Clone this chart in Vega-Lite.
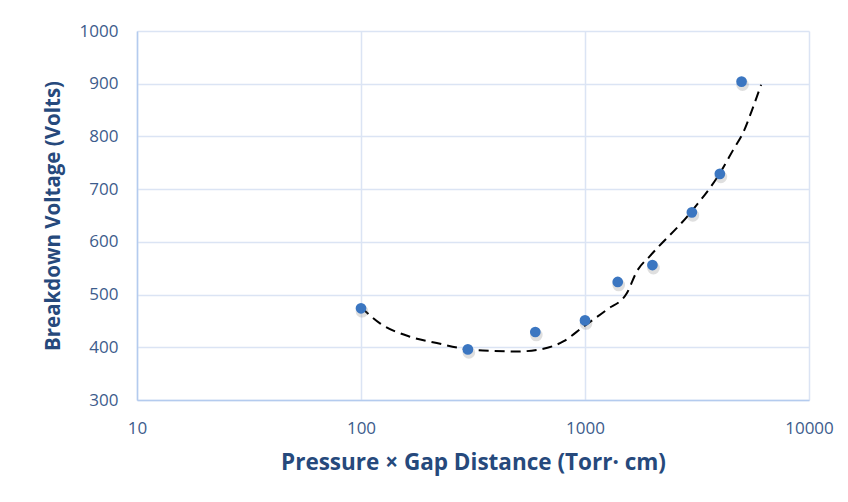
{
  "$schema": "https://vega.github.io/schema/vega-lite/v6.json",
  "width": 672,
  "height": 369,
  "autosize": {"type": "none"},
  "padding": {"left": 137, "top": 31, "right": 39, "bottom": 102},
  "background": "white",
  "config": {
    "font": "Open Sans",
    "view": {"stroke": null},
    "axis": {
      "gridColor": "#dbe4f4",
      "gridWidth": 1.5,
      "domainColor": "#b4cbee",
      "domainWidth": 1.5,
      "ticks": false,
      "labelFlush": false,
      "labelFont": "Open Sans",
      "labelFontSize": 17,
      "labelColor": "#3d5c8c",
      "titleFont": "Open Sans",
      "titleFontWeight": "bold",
      "titleColor": "#26497c"
    }
  },
  "datasets": {
    "measured": [
      {"pd": 100, "voltage": 474},
      {"pd": 300, "voltage": 396},
      {"pd": 600, "voltage": 429},
      {"pd": 1000, "voltage": 451},
      {"pd": 1400, "voltage": 524},
      {"pd": 2000, "voltage": 556},
      {"pd": 3000, "voltage": 656},
      {"pd": 4000, "voltage": 729},
      {"pd": 5000, "voltage": 904}
    ],
    "fit": [
      {"pd": 100, "voltage": 476},
      {"pd": 122, "voltage": 445},
      {"pd": 166, "voltage": 420},
      {"pd": 218, "voltage": 408},
      {"pd": 300, "voltage": 396},
      {"pd": 390, "voltage": 393},
      {"pd": 496, "voltage": 392},
      {"pd": 630, "voltage": 396},
      {"pd": 800, "voltage": 411},
      {"pd": 982, "voltage": 439},
      {"pd": 1248, "voltage": 471},
      {"pd": 1534, "voltage": 502},
      {"pd": 1709, "voltage": 545},
      {"pd": 1948, "voltage": 573},
      {"pd": 2937, "voltage": 654},
      {"pd": 3996, "voltage": 730},
      {"pd": 4581, "voltage": 774},
      {"pd": 5117, "voltage": 810},
      {"pd": 5568, "voltage": 850},
      {"pd": 6110, "voltage": 898}
    ]
  },
  "encoding": {
    "x": {
      "field": "pd",
      "type": "quantitative",
      "scale": {"type": "log", "domain": [10, 10000], "nice": false},
      "axis": {
        "title": "Pressure × Gap Distance (Torr· cm)",
        "titleFontSize": 22.5,
        "values": [10, 100, 1000, 10000],
        "format": "d",
        "labelPadding": 20,
        "titlePadding": 15
      }
    },
    "y": {
      "field": "voltage",
      "type": "quantitative",
      "scale": {"domain": [300, 1000], "nice": false, "zero": false},
      "axis": {
        "title": "Breakdown Voltage (Volts)",
        "titleFontSize": 20.5,
        "format": "d",
        "values": [300, 400, 500, 600, 700, 800, 900, 1000],
        "labelPadding": 19,
        "titlePadding": 16
      }
    }
  },
  "layer": [
    {
      "data": {"name": "fit"},
      "mark": {"type": "line", "color": "black", "strokeWidth": 2, "strokeDash": [10, 6], "interpolate": "monotone"}
    },
    {
      "data": {"name": "measured"},
      "mark": {"type": "circle", "color": "#6f6f6f", "opacity": 0.22, "size": 160, "yOffset": 3, "xOffset": 1}
    },
    {
      "data": {"name": "measured"},
      "mark": {"type": "circle", "color": "#3b76c1", "opacity": 1, "size": 115}
    }
  ]
}
